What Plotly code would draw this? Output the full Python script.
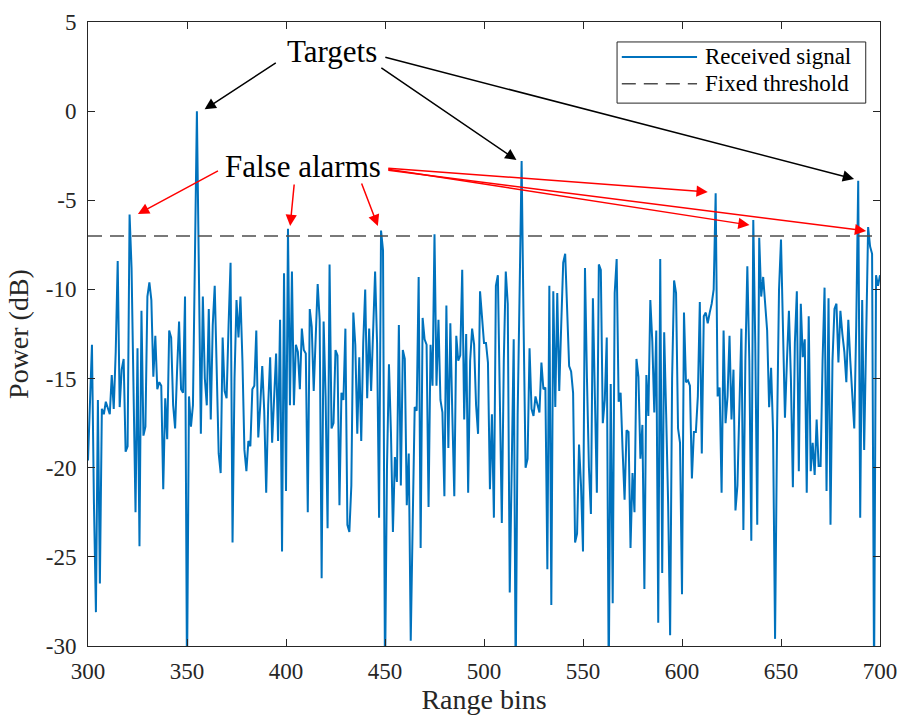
import plotly.graph_objects as go

# ---------------- data ----------------
power_300_349 = [
    -19.6, -16, -13.1, -22, -28.1, -16.2, -26.5, -16.7, -17.0, -16.3,
    -16.6, -17.0, -14.8, -16.7, -13.5, -8.4, -16.6, -14.5, -13.9, -19.1,
    -18.8, -5.8, -8.8, -17, -22.5, -13.3, -24.4, -11.2, -18.2, -17.7,
    -10.4, -9.6, -10.6, -14.9, -12.6, -15.6, -15.2, -15.4, -21.2, -16.1,
    -18.4, -12.3, -12.7, -16.5, -17.8, -14.5, -11.8, -15.6, -15.8, -10.4,
]
power_350_399 = [
    -32, -16, -17.7, -16.5, -8, 0, -9, -18.1, -10.4, -15,
    -16.5, -11.1, -17.3, -12, -9.8, -14, -19.2, -20.3, -12.7, -15.7,
    -16.1, -12, -8.5, -24.2, -15, -10.6, -12.7, -10.4, -14, -19,
    -20.2, -18.5, -18.8, -15.6, -15.4, -12.3, -18.3, -16.5, -14.3, -16.8,
    -21.4, -16.5, -13.8, -18.6, -15.7, -13.6, -18.5, -11.7, -24.7, -9.1,
]
power_400_449 = [
    -21.3, -6.6, -16.5, -9, -16.5, -13.1, -13.5, -15.6, -12.2, -13.4,
    -13.6, -22.5, -11.1, -12.1, -15.7, -12, -9.7, -11.7, -26.2, -11.8,
    -16, -23.4, -8.6, -17.8, -17.5, -13.4, -13.7, -22.1, -15.8, -16.2,
    -12.2, -23.2, -23.6, -21, -11.3, -13.1, -18.1, -13.8, -18.5, -13,
    -10, -16.1, -12.2, -15.7, -12.5, -9, -13, -22.8, -6.7, -7.8,
]
power_450_499 = [
    -32, -20, -14.2, -18, -23.6, -19.4, -20.8, -12, -21, -13.4,
    -13.9, -22.1, -19.2, -29.7, -23, -16.6, -16.8, -9.3, -24.5, -11.6,
    -12.8, -13.1, -22.2, -13.1, -15.4, -6.9, -15.4, -11.7, -16.2, -16.9,
    -21.6, -10.9, -18.9, -11.9, -17, -21.6, -12.6, -14, -13.7, -8.9,
    -17.3, -12.5, -21.4, -14, -12.2, -13.1, -16.5, -18.1, -10.1, -11.5,
]
power_500_549 = [
    -13, -13, -14.1, -21.2, -17, -22.8, -9.8, -9.2, -17, -23.1,
    -14, -9, -10.8, -27, -20, -12.8, -32, -17, -10, -2.8,
    -12, -20, -19.5, -13.3, -16.7, -17.1, -16, -16.4, -16.9, -14.1,
    -15.6, -15.5, -25.7, -9.8, -27.7, -10.1, -16.6, -10.2, -15.7, -12,
    -8.5, -8, -11.5, -14.3, -14.6, -15.8, -24.2, -23.7, -18.7, -21,
]
power_550_599 = [
    -24.7, -8.8, -15, -20, -22.6, -10.5, -16, -21.4, -8.6, -8.9,
    -17.5, -16.2, -12.7, -32, -15.3, -27.6, -10.2, -8.3, -16.3, -15.8,
    -19, -21.8, -17.9, -18, -24.5, -20.3, -22.5, -13.9, -14.9, -19.5,
    -17.6, -26.8, -14.8, -17.1, -10.6, -12.9, -16.9, -12.3, -28.7, -8.3,
    -25.9, -12.4, -17, -22, -29.4, -15, -9.5, -10.2, -17.8, -18.6,
]
power_600_649 = [
    -27.1, -11.3, -15.2, -15.1, -15.4, -20.6, -18, -18, -16, -10.7,
    -19.2, -11.5, -11.3, -11.9, -11.3, -10.8, -10, -4.6, -16, -15.5,
    -21.4, -12.3, -17.5, -16, -12.6, -17.3, -14.5, -22.4, -21, -17,
    -12.2, -23.5, -14, -8.7, -14, -24.1, -6.1, -13, -23.2, -7.1,
    -10.4, -9.3, -11, -12.3, -16.6, -14.4, -18, -29.6, -18, -10,
]
power_650_700 = [
    -7.2, -12.5, -17.2, -14, -11.2, -15, -21.1, -13, -10.1, -20.2,
    -10.8, -13.8, -12.8, -21.4, -11.5, -20.2, -18.6, -20.4, -17.3, -19.9,
    -19.9, -14, -9.9, -21.3, -10.5, -23.2, -14, -11.1, -10.8, -14.1,
    -11.2, -12.5, -13.5, -15.2, -11.7, -14, -16, -17.8, -12, -3.9,
    -22.8, -10.6, -19, -12, -6.5, -7.6, -8, -32, -9.2, -9.8,
    -9.2,
]
power_db = (power_300_349 + power_350_399 + power_400_449 + power_450_499
            + power_500_549 + power_550_599 + power_600_649 + power_650_700)
range_bins = list(range(300, 300 + len(power_db)))

threshold_db = -7
x_ticks = [300, 350, 400, 450, 500, 550, 600, 650, 700]
y_ticks = [-30, -25, -20, -15, -10, -5, 0, 5]
y_tick_text = ["-30", "-25", "-20", "-15", "-10", "-5", "0", "5"]
series_names = ["Received signal", "Fixed threshold"]

# annotation geometry (data coordinates): (head_x, head_y, tail_x, tail_y)
target_label = (423, 3.35)
target_arrows = [
    (358.9, 0.1, 395.6, 2.76),
    (516.4, -2.74, 447.4, 2.48),
    (686.9, -3.8, 449.4, 3.04),
]
false_label = (408.6, -3.13)
false_arrows = [
    (325.2, -5.77, 366.4, -3.3),
    (402.1, -6.44, 404.2, -4.03),
    (446.4, -6.44, 437.9, -3.97),
    (613.0, -4.53, 450.9, -3.19),
    (634.1, -6.39, 450.9, -3.25),
    (693.0, -6.72, 450.9, -3.3),
]

FONT = "Liberation Serif"
AX = "#262626"
SIG_COLOR = "#0072BD"
THR_COLOR = "#4D4D4D"
THR_DASH = "14px,8px"

fig = go.Figure()
fig.add_trace(go.Scatter(
    x=range_bins, y=power_db, mode="lines", name=series_names[0],
    line=dict(color=SIG_COLOR, width=2), showlegend=False,
))
fig.add_trace(go.Scatter(
    x=[range_bins[0], range_bins[-1]], y=[threshold_db, threshold_db],
    mode="lines", name=series_names[1], showlegend=False,
    line=dict(color=THR_COLOR, width=1.6, dash=THR_DASH),
))

annotations = []
for hx, hy, tx, ty in target_arrows:
    annotations.append(dict(
        x=hx, y=hy, ax=tx, ay=ty, xref="x", yref="y", axref="x", ayref="y",
        text="", showarrow=True, arrowhead=2, arrowsize=1.5, arrowwidth=1.5,
        arrowcolor="black", standoff=0, startstandoff=0,
    ))
for hx, hy, tx, ty in false_arrows:
    annotations.append(dict(
        x=hx, y=hy, ax=tx, ay=ty, xref="x", yref="y", axref="x", ayref="y",
        text="", showarrow=True, arrowhead=2, arrowsize=1.5, arrowwidth=1.5,
        arrowcolor="#FF0000", standoff=0, startstandoff=0,
    ))
annotations.append(dict(
    x=target_label[0], y=target_label[1], xref="x", yref="y", text="Targets",
    showarrow=False, font=dict(family=FONT, size=31, color="black"),
))
annotations.append(dict(
    x=false_label[0], y=false_label[1], xref="x", yref="y", text="False alarms",
    showarrow=False, font=dict(family=FONT, size=31, color="black"),
))

# ---- legend box drawn in paper coordinates (MATLAB-style) ----
leg_x0, leg_x1, leg_y0, leg_y1 = 0.668, 0.982, 0.870, 0.968
row_y = [0.944, 0.901]
sample_x0, sample_x1, text_x = 0.674, 0.769, 0.776
shapes = [dict(type="rect", xref="paper", yref="paper",
               x0=leg_x0, x1=leg_x1, y0=leg_y0, y1=leg_y1,
               line=dict(color=AX, width=1), fillcolor="white", layer="above")]
shapes.append(dict(type="line", xref="paper", yref="paper",
                   x0=sample_x0, x1=sample_x1, y0=row_y[0], y1=row_y[0],
                   line=dict(color=SIG_COLOR, width=2), layer="above"))
shapes.append(dict(type="line", xref="paper", yref="paper",
                   x0=sample_x0, x1=sample_x1, y0=row_y[1], y1=row_y[1],
                   line=dict(color=THR_COLOR, width=1.6, dash=THR_DASH), layer="above"))
for name, ry in zip(series_names, row_y):
    annotations.append(dict(
        x=text_x, y=ry, xref="paper", yref="paper", text=name,
        xanchor="left", yanchor="middle", showarrow=False,
        font=dict(family=FONT, size=23, color="black"),
    ))

fig.update_layout(
    width=899, height=715,
    margin=dict(l=88, r=19, t=22, b=69),
    paper_bgcolor="white", plot_bgcolor="white",
    font=dict(family=FONT, size=23, color=AX),
    showlegend=False,
    annotations=annotations,
    shapes=shapes,
)
fig.update_xaxes(
    range=[300, 700], tickvals=x_ticks, ticks="inside", ticklen=7,
    tickcolor=AX, showline=True, linecolor=AX, linewidth=1, mirror="ticks",
    showgrid=False, zeroline=False, automargin=False, ticklabelstandoff=4,
    title=dict(text="Range bins", font=dict(family=FONT, size=28, color=AX), standoff=4),
    tickfont=dict(family=FONT, size=23, color=AX),
)
fig.update_yaxes(
    range=[-30, 5], tickvals=y_ticks, ticktext=y_tick_text, ticks="inside", ticklen=7,
    tickcolor=AX, showline=True, linecolor=AX, linewidth=1, mirror="ticks",
    showgrid=False, zeroline=False, automargin=False, ticklabelstandoff=6,
    title=dict(text="Power (dB)", font=dict(family=FONT, size=28, color=AX), standoff=8),
    tickfont=dict(family=FONT, size=23, color=AX),
)

fig.write_html("out.html")
